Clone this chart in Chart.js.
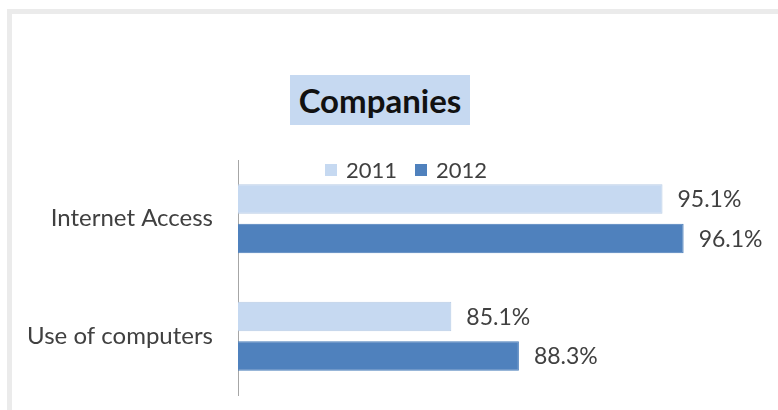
<!DOCTYPE html>
<html>
<head>
<meta charset="utf-8">
<script src="https://cdn.jsdelivr.net/npm/chart.js@4"></script>
<style>
  body { margin: 0; background: #fff; font-family: Lato, sans-serif; }
  #wrap { position: relative; width: 778px; height: 410px; overflow: hidden; }
  #frame { position: absolute; left: 7px; top: 9px; right: 0; bottom: 0;
           border-top: 5px solid #ebebeb; border-left: 5px solid #ebebeb; }
  #chart { position: absolute; left: 0; top: 0; }
  #title { position: absolute; left: 290px; top: 75px; width: 180px; height: 50px;
           background: #c6d9f1; font: bold 33px Lato; line-height: 50px;
           text-align: center; color: #111; }
  #legend { position: absolute; left: 325px; top: 157px; display: flex;
            font: 22px Lato; color: #404040; line-height: 26px; }
  #legend span.item { display: flex; align-items: center; margin-right: 18px; }
  #legend span.box { display: inline-block; width: 12px; height: 12px; margin-right: 9px; }
</style>
</head>
<body>
<div id="wrap">
  <div id="frame"></div>
  <canvas id="chart" width="778" height="410"></canvas>
  <div id="title">Companies</div>
  <div id="legend"></div>
</div>
<script>
// data
var categories = ['Internet Access', 'Use of computers'];
var years = ['2011', '2012'];
var values2011 = [95.1, 85.1];
var values2012 = [96.1, 88.3];
var colors = ['#c6d9f1', '#4f81bd'];

// percent labels at the end of each bar
var valueLabels = {
    id: 'valueLabels',
    afterDatasetsDraw: function (chart) {
        var ctx = chart.ctx;
        ctx.save();
        ctx.font = '23px Lato';
        ctx.fillStyle = '#404040';
        ctx.textBaseline = 'middle';
        chart.data.datasets.forEach(function (ds, i) {
            chart.getDatasetMeta(i).data.forEach(function (bar, j) {
                ctx.fillText(ds.data[j].toFixed(1) + '%', bar.x + 15, bar.y + 1);
            });
        });
        ctx.restore();
    }
};

var ctx = document.getElementById('chart').getContext('2d');
var myChart = new Chart(ctx, {
    type: 'bar',
    data: {
        labels: categories,
        datasets: [{
            label: years[0],
            data: values2011,
            backgroundColor: colors[0],
            borderColor: '#b8cce4',
            borderWidth: 1
        }, {
            label: years[1],
            data: values2012,
            backgroundColor: colors[1],
            borderColor: '#4a7ebb',
            borderWidth: 1
        }]
    },
    options: {
        indexAxis: 'y',
        responsive: false,
        animation: false,
        categoryPercentage: 0.67,
        barPercentage: 0.75,
        layout: { padding: { top: 160, bottom: 15, left: 0, right: 12 } },
        plugins: {
            legend: { display: false },
            title: { display: false },
            tooltip: { enabled: false }
        },
        scales: {
            x: { display: false, min: 75, max: 100 },
            y: {
                grid: { display: false, drawTicks: false },
                border: { display: true, color: '#a6a6a6', width: 1 },
                ticks: { padding: 25, color: '#404040', font: { family: 'Lato', size: 24 } },
                afterFit: function (scale) {
                    scale.width = 238;
                    scale.paddingTop = 0;
                    scale.paddingBottom = 0;
                }
            }
        }
    },
    plugins: [valueLabels]
});

// legend built from the chart's datasets
var legend = document.getElementById('legend');
myChart.data.datasets.forEach(function (ds) {
    var item = document.createElement('span');
    item.className = 'item';
    var box = document.createElement('span');
    box.className = 'box';
    box.style.background = ds.backgroundColor;
    item.appendChild(box);
    item.appendChild(document.createTextNode(ds.label));
    legend.appendChild(item);
});
</script>
</body>
</html>
